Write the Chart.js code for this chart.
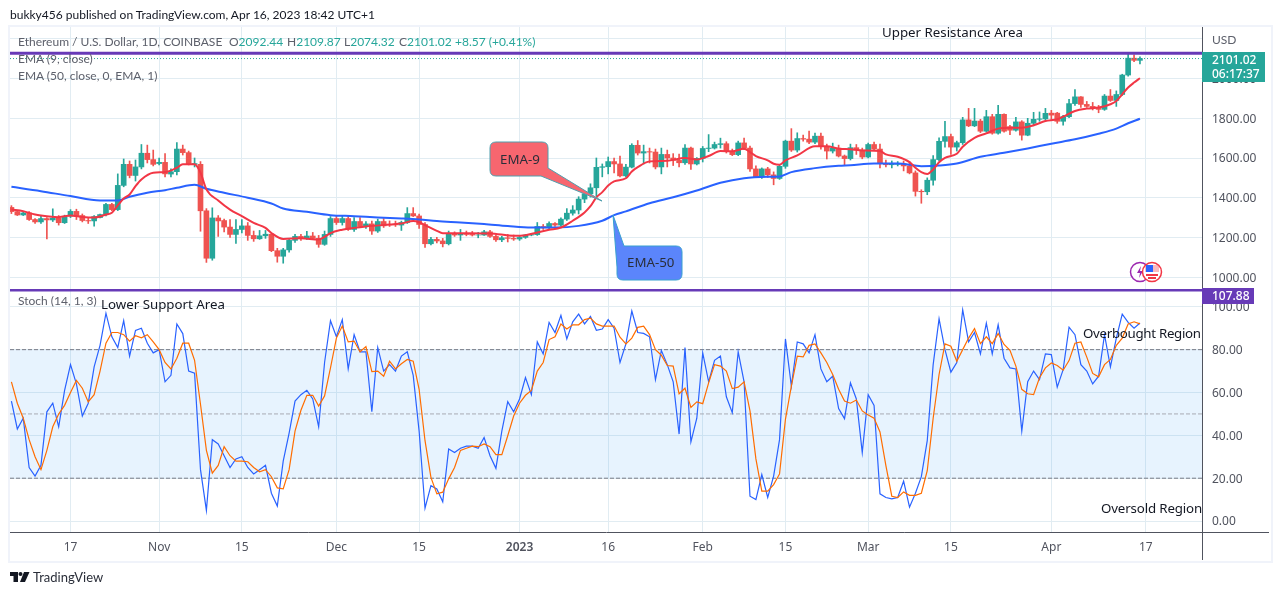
<!DOCTYPE html>
<html>
<head>
<meta charset="utf-8">
<title>ETHUSD</title>
<script src="https://cdn.jsdelivr.net/npm/chart.js@4"></script>
<style>
  html, body { margin: 0; padding: 0; background: #fff; width: 1280px; height: 595px; overflow: hidden; }
  body { font-family: Lato, sans-serif; color: #131722; position: relative; }
  canvas { position: absolute; left: 0; top: 0; }
  .t { position: absolute; white-space: nowrap; font-size: 12px; line-height: 16px; }
  .note { font-family: "Noto Sans", sans-serif; font-size: 13.3px; }
  .grey { color: #5d606b; }
  .up { color: #26a69a; }
  .frame { position: absolute; left: 8px; top: 25px; width: 1261px; height: 534px; border: 2px solid #f0f3fa; }
  .axis { position: absolute; background: #50535e; }
  .tag { position: absolute; color: #fff; font-family: "Noto Sans", sans-serif; font-size: 12px; line-height: 14px; text-align: left; padding-left: 10px; box-sizing: border-box; font-weight: 500; }
  svg { position: absolute; left: 0; top: 0; }
</style>
</head>
<body>
<div class="frame"></div>
<canvas id="chart" width="1280" height="595"></canvas>
<div class="axis" style="left:1202px;top:531px;width:1px;height:29px"></div>
<div class="axis" style="left:1202px;top:532px;width:67px;height:1px"></div>

<svg width="1280" height="595">
  <!-- Callouts -->
  <path d="M496 142 H542 Q548 142 548 148 V168 L602 201 L541 176 H496 Q490 176 490 170 V148 Q490 142 496 142 Z" fill="#f7666f" stroke="#4f9fae"/>
  <path d="M613 215 L624 246 H676 Q682 246 682 252 V274 Q682 280 676 280 H623 Q617 280 617 274 V267 Z" fill="#5b85fb" stroke="#38a0cf"/>
  <!-- Icons -->
  <circle cx="1140" cy="272" r="9.5" fill="#fff" stroke="#9c27b0" stroke-width="1.5"/>
  <path d="M1141 266 L1137 273 H1140 L1139 278 L1143 271 H1140 Z" fill="#9c27b0"/>
  <circle cx="1152" cy="272" r="9.5" fill="#fff" stroke="#f23645" stroke-width="1.5"/>
  <rect x="1145" y="265" width="14" height="7" fill="#f23645" opacity=".35"/>
  <rect x="1146" y="265" width="7" height="7" fill="#2962ff"/>
  <rect x="1146" y="274" width="12" height="2" fill="#f23645"/>
  <rect x="1148" y="277" width="8" height="2" fill="#f23645"/>
  <!-- TradingView logo -->
  <path d="M10 572 H18 V582 H13.5 V576 H10 Z" fill="#131722"/>
  <circle cx="20.5" cy="574" r="2" fill="#131722"/>
  <path d="M24 572 H29.5 L25 582 H20 Z" fill="#131722"/>
</svg>

<div class="t" style="left:10px;top:7px">bukky456 published on TradingView.com, Apr 16, 2023 18:42 UTC+1</div>
<div class="t grey" style="left:18px;top:34px">Ethereum / U.S. Dollar, 1D, COINBASE</div>
<div class="t" style="left:229px;top:34px"><span class="grey">O</span><span class="up">2092.44</span></div>
<div class="t" style="left:287px;top:34px"><span class="grey">H</span><span class="up">2109.87</span></div>
<div class="t" style="left:344px;top:34px"><span class="grey">L</span><span class="up">2074.32</span></div>
<div class="t" style="left:399px;top:34px"><span class="grey">C</span><span class="up">2101.02</span></div>
<div class="t up" style="left:455px;top:34px">+8.57 (+0.41%)</div>
<div class="t grey" style="left:18px;top:51px">EMA (9, close)</div>
<div class="t grey" style="left:18px;top:68px">EMA (50, close, 0, EMA, 1)</div>
<div class="t grey" style="left:18px;top:293px">Stoch (14, 1, 3)</div>
<div class="t note" style="left:101px;top:296px">Lower Support Area</div>
<div class="t note" style="left:882px;top:24px">Upper Resistance Area</div>
<div class="t note" style="left:1083px;top:325px;letter-spacing:-0.3px">Overbought Region</div>
<div class="t note" style="left:1101px;top:500px;letter-spacing:-0.15px">Oversold Region</div>
<div class="t note" style="left:500px;top:151px;color:#2a2e39">EMA-9</div>
<div class="t note" style="left:627px;top:254px;color:#2a2e39">EMA-50</div>
<div class="t grey" style="left:1212px;top:32px">USD</div>
<div class="tag" style="left:1202px;top:52px;width:63px;height:30px;background:#26a69a;padding-top:1px">2101.02<br>06:17:37</div>
<div class="tag" style="left:1202px;top:288px;width:52px;height:16px;background:#673ab7;line-height:16px">107.88</div>
<div class="t" style="left:33px;top:569px;color:#2a2e39;font-size:13px">TradingView</div>

<script>
// --- Data ---
const opens = [
    1351,1330,1313,1323,1290,1278,1295,1288,1297,1274,
    1307,1331,1310,1285,1283,1300,1315,1366,1340,1462,
    1568,1512,1555,1624,1592,1572,1578,1519,1531,1645,
    1627,1568,1568,1334,1095,1298,1285,1252,1215,1240,
    1258,1210,1193,1208,1216,1133,1105,1137,1185,1205,
    1198,1207,1195,1165,1215,1295,1275,1295,1240,1280,
    1255,1268,1232,1280,1265,1265,1262,1275,1320,1308,
    1265,1168,1190,1182,1168,1220,1212,1218,1215,1212,
    1212,1228,1205,1188,1198,1195,1192,1200,1212,1214,
    1255,1248,1270,1262,1292,1322,1338,1393,1420,1450,
    1553,1556,1582,1570,1510,1554,1664,1625,1632,1630,
    1555,1618,1600,1588,1576,1650,1570,1598,1648,1650,
    1668,1672,1633,1617,1676,1650,1545,1505,1545,1515,
    1497,1558,1685,1640,1698,1695,1680,1710,1658,1635,
    1650,1610,1597,1652,1640,1605,1668,1645,1572,1566,
    1568,1572,1560,1525,1432,1430,1488,1592,1684,1708,
    1655,1677,1792,1762,1786,1735,1808,1725,1820,1758,
    1740,1782,1715,1775,1795,1797,1826,1826,1785,1808,
    1874,1908,1870,1860,1850,1845,1912,1890,1920,2018,
    2103,2092
];
const highs = [
    1360,1335,1330,1330,1295,1310,1300,1344,1310,1312,
    1340,1342,1318,1298,1310,1318,1372,1372,1520,1595,
    1585,1590,1668,1665,1640,1600,1622,1545,1678,1665,
    1635,1600,1582,1345,1349,1310,1292,1290,1290,1290,
    1275,1232,1235,1235,1220,1145,1145,1195,1215,1215,
    1230,1225,1210,1232,1305,1310,1310,1310,1300,1300,
    1280,1282,1292,1295,1283,1282,1282,1350,1350,1318,
    1275,1200,1200,1195,1232,1228,1240,1232,1230,1225,
    1235,1235,1212,1205,1215,1212,1205,1215,1220,1275,
    1265,1278,1275,1298,1345,1360,1405,1425,1470,1600,
    1570,1605,1600,1610,1568,1672,1688,1665,1650,1645,
    1650,1640,1622,1620,1668,1655,1602,1658,1718,1680,
    1700,1682,1645,1685,1700,1660,1560,1550,1553,1530,
    1565,1690,1748,1727,1715,1735,1725,1725,1670,1675,
    1665,1615,1670,1668,1650,1675,1680,1670,1590,1585,
    1582,1585,1582,1535,1440,1500,1612,1702,1785,1720,
    1685,1805,1850,1850,1795,1840,1820,1865,1823,1765,
    1805,1788,1800,1830,1832,1850,1840,1830,1815,1895,
    1945,1910,1885,1880,1865,1920,1945,1938,2022,2125,
    2120,2110
];
const lows = [
    1320,1310,1310,1285,1270,1270,1192,1280,1262,1270,
    1300,1290,1278,1270,1256,1298,1308,1335,1335,1455,
    1500,1484,1545,1575,1560,1565,1505,1505,1515,1615,
    1565,1555,1231,1074,1085,1205,1228,1200,1170,1222,
    1185,1180,1190,1195,1128,1075,1070,1125,1175,1185,
    1190,1190,1150,1160,1205,1265,1262,1235,1230,1255,
    1245,1215,1225,1250,1255,1255,1235,1270,1305,1245,
    1150,1162,1172,1152,1162,1205,1185,1208,1207,1198,
    1210,1200,1180,1178,1177,1185,1185,1195,1208,1210,
    1240,1243,1255,1258,1285,1312,1318,1375,1403,1410,
    1505,1520,1525,1505,1505,1550,1615,1570,1575,1545,
    1520,1555,1562,1555,1568,1542,1565,1580,1632,1645,
    1650,1625,1612,1612,1642,1532,1505,1497,1502,1465,
    1492,1548,1633,1630,1685,1672,1672,1645,1595,1625,
    1605,1562,1590,1618,1596,1600,1640,1550,1555,1550,
    1560,1535,1520,1408,1372,1415,1463,1585,1655,1618,
    1635,1668,1758,1758,1728,1730,1720,1720,1730,1718,
    1735,1690,1712,1762,1785,1790,1795,1775,1765,1803,
    1865,1855,1855,1842,1828,1840,1885,1860,1915,2012,
    2085,2074
];
const closes = [
    1330,1313,1323,1290,1278,1295,1288,1297,1274,1302,
    1331,1305,1285,1283,1305,1315,1366,1340,1462,1568,
    1512,1555,1624,1592,1568,1578,1520,1531,1645,1627,
    1568,1572,1334,1095,1298,1283,1252,1215,1240,1258,
    1210,1193,1208,1216,1133,1105,1137,1185,1205,1198,
    1207,1195,1165,1215,1295,1275,1295,1240,1280,1255,
    1268,1232,1280,1258,1263,1263,1275,1320,1308,1265,
    1168,1190,1182,1168,1220,1212,1218,1215,1212,1212,
    1228,1205,1188,1198,1195,1192,1200,1212,1214,1255,
    1248,1270,1262,1292,1322,1338,1393,1420,1450,1553,
    1556,1582,1570,1510,1554,1664,1625,1632,1630,1555,
    1618,1600,1588,1576,1650,1570,1598,1648,1650,1668,
    1672,1633,1617,1676,1650,1545,1505,1545,1515,1497,
    1558,1685,1640,1698,1695,1680,1710,1658,1635,1650,
    1610,1597,1652,1640,1605,1668,1645,1572,1566,1568,
    1572,1560,1525,1432,1430,1488,1592,1684,1708,1655,
    1677,1792,1762,1786,1735,1808,1725,1820,1735,1740,
    1782,1715,1775,1795,1797,1825,1816,1785,1808,1874,
    1908,1870,1860,1850,1845,1912,1890,1920,2018,2103,
    2092,2101
];

// EMA lines, read at the days where the line bends
const ema9Days = [0,2,4,6,8,10,12,14,16,17,18,19,20,21,22,24,26,28,29,31,32,33,35,37,39,41,43,44,46,49,52,53,54,56,58,60,64,66,68,69,
    70,72,73,77,81,85,87,89,91,93,95,97,98,99,100,101,102,104,105,106,108,111,114,116,118,120,122,124,125,126,128,129,130,131,133,136,138,140,142,
    144,147,148,150,152,153,154,155,156,157,158,160,161,163,165,167,169,171,173,175,177,178,180,182,184,186,187,188,189,190,191];
const ema9Values = [1340,1332,1315,1307,1302,1310,1303,1300,1315,1324,1361,1396,1416,1458,1492,1526,1529,1551,1568,1568,1526,1442,1386,1340,1307,1273,1248,1222,1192,1196,1189,1202,1222,1239,1248,1255,1265,1270,1282,1276,
    1262,1233,1221,1221,1220,1208,1211,1225,1238,1250,1284,1326,1357,1402,1428,1461,1482,1498,1532,1554,1583,1586,1600,1592,1610,1635,1634,1647,1630,1610,1588,1571,1566,1588,1613,1659,1659,1647,1644,
    1638,1635,1618,1606,1579,1551,1529,1520,1542,1579,1601,1621,1657,1702,1724,1748,1753,1753,1765,1786,1795,1808,1837,1849,1854,1871,1887,1921,1955,1980,2002];
const ema50Days = [0,5,10,15,18,20,23,26,28,31,33,36,40,44,46,50,54,58,62,66,69,72,76,80,84,88,92,96,100,102,104,108,112,116,120,124,128,130,132,136,140,142,146,150,154,157,160,164,168,172,176,180,184,187,189,191];
const ema50Values = [1455,1433,1408,1386,1386,1405,1425,1438,1450,1465,1445,1425,1400,1371,1346,1329,1312,1307,1300,1295,1290,1282,1275,1267,1257,1250,1250,1258,1284,1312,1331,1372,1402,1436,1475,1498,1505,1507,1529,1549,1561,1564,1572,1572,1559,1562,1572,1606,1626,1648,1672,1694,1722,1748,1775,1798];

// Stochastic lines
const stochK = [
    56,43,48,25,21,26,51,55,44,61,
    73,64,49,55,72,82,97,86,81,93.5,
    77,89,90,83,78.5,80,65,68,92,87.5,
    70,69,24,5,38,36,30.5,25,29,30,
    25,22,24,26,13,7,28,41,56,59,
    61,57,44,74,93.5,86,94,71,87,79,
    79,51,81,70,73,70,77,79,68,42,
    6,16.5,15,9,33.6,32,34,35,35,34,
    39,30.5,24.6,42,55.7,51,57,67,59,83.6,
    78,92.7,88,96,85,93,96.6,92,95.5,89,
    89.6,94,90,74,82.7,98,88,87.6,86,66,
    79.6,73,65,40.6,81,37,48,78.5,65,75,
    77,58,50.6,79,65,11.6,10,21.7,11,21,
    38,85,63,83.6,82.7,78.5,87,71,65,67.6,
    52.5,47.8,64.5,57,32,59,54,12.7,11,10.4,
    11,18.6,6.5,13,20.7,37.5,73,94.4,80,69.5,
    74,98.6,83.6,88,78,92.4,78,91.6,76,71.5,
    71,42,65,70,66,78,77.7,62.5,70.7,90.5,
    87,73,70,64,67.6,87,72,85.4,96.6,92.7,
    90,92.4
];
const stochD = [
    65,55,48,38,30,24,33,44,50,54,
    60,65.6,62,55.6,59,70,83,88,88,87,
    84,86.5,85.5,87,83.6,80,74,71,76,83,
    83,75,54.5,33,22.4,26,34.7,30.5,28,28,
    27.7,25,23,24,20.7,15.5,15,24,42,51.7,
    58.7,58.7,53.7,58.4,71.5,85.4,91,83.6,84,79,
    81.4,69.7,70,67.6,74.6,71,73.4,75.4,74.6,61.5,
    37.5,20.4,12.7,13.5,19.7,25,33,34,35,34.7,
    36,34.7,31,31,39.8,49,55,58.7,61,70,
    74,84.7,86,92,89.6,91.6,91.6,94,94.7,92,
    91,91,91,85.8,82.7,85.4,90.4,91,87,80,
    77.4,72.6,72.3,59.4,62,53,55.6,54.8,64.5,73,
    72.3,70,61.8,62.5,65,51.4,29,14,14,17,
    22,47.5,63,77,76.6,82,82.7,78.5,74,68.4,
    61.5,56,55,56.5,51.4,49.5,48,41.6,25.9,11.6,
    11,13.6,12,12,13,23.5,48,68.4,82.7,81.6,
    74.6,80,85.4,89.8,82.8,86,82.8,87.5,82.4,79.7,
    72.3,61.5,59.4,59,66.9,71.5,73.8,72.6,70.4,74.9,
    83,83.6,76.5,68.9,67.3,73,75.4,82,85.4,92,
    93,92
];

// Axes (days counted from Oct 7 2022)
const xTickDays = [10,25,39,55,69,86,101,117,131,145,159,176,192];
const xTickLabels = ['17','Nov','15','Dec','15','2023','16','Feb','15','Mar','15','Apr','17'];
const priceTicks = [1000,1200,1400,1600,1800,2000,2200];
const stochTicks = [0,20,40,60,80,100];

// Horizontal levels
const upperResistance = 2128;
const lastClose = 2101.02;
const lowerSupport = 107.88;
const stochBand = [80,20];
const stochMid = 50;

// --- Chart settings ---
const X_MIN = -0.24, X_MAX = 201.5;
const UP = '#26a69a', DOWN = '#ef5350', GRID = '#e1ecf2', AXIS = '#50535e';
const TICK_FONT = { family: '"Noto Sans"', size: 12 };

const days = opens.map((_, i) => i);
const candleColor = ctx => closes[ctx.dataIndex] >= opens[ctx.dataIndex] ? UP : DOWN;
const pairs = (xs, ys) => xs.map((x, i) => ({ x: x, y: ys[i] }));
const hline = (value, yAxisID, color, width, dash, extra) => Object.assign({
    type: 'line', yAxisID: yAxisID, data: [{ x: X_MIN, y: value }, { x: X_MAX, y: value }],
    borderColor: color, borderWidth: width, borderDash: dash, pointRadius: 0
}, extra);
const curve = (xs, ys, yAxisID, color, width, order, extra) => Object.assign({
    type: 'line', yAxisID: yAxisID, data: pairs(xs, ys),
    borderColor: color, borderWidth: width, pointRadius: 0, order: order
}, extra);

const datasets = [
    // Stochastic pane
    hline(stochBand[0], 'y2', '#787b86', 1, [4, 2], { fill: { value: stochBand[1] }, backgroundColor: 'rgba(33,150,243,0.11)', order: 20 }),
    hline(stochBand[1], 'y2', '#787b86', 1, [4, 2], { order: 19 }),
    hline(stochMid, 'y2', '#a9abb3', 1, [4, 2], { order: 19 }),
    curve(days, stochK, 'y2', '#2962ff', 1.2, 6),
    curve(days, stochD, 'y2', '#ff6d00', 1.2, 5),
    // Candles
    { type: 'bar', yAxisID: 'y', grouped: false, order: 10, barThickness: 1,
      data: days.map(i => ({ x: i, y: [lows[i], highs[i]] })), backgroundColor: candleColor },
    { type: 'bar', yAxisID: 'y', grouped: false, order: 9, barThickness: 5,
      data: days.map(i => ({ x: i, y: [opens[i], closes[i]] })), backgroundColor: candleColor },
    // Price overlays
    curve(ema50Days, ema50Values, 'y', '#2962ff', 2, 4, { cubicInterpolationMode: 'monotone' }),
    curve(ema9Days, ema9Values, 'y', '#f23645', 2, 3, { cubicInterpolationMode: 'monotone' }),
    hline(lastClose, 'y', UP, 1, [1, 2], { order: 8 }),
    hline(upperResistance, 'y', '#673ab7', 3, [], { order: 1 }),
    hline(lowerSupport, 'y2', '#673ab7', 3, [], { order: 1 })
];

new Chart(document.getElementById('chart').getContext('2d'), {
    type: 'line',
    data: { datasets: datasets },
    options: {
        responsive: false,
        animation: false,
        events: [],
        layout: { padding: { left: 10, top: 27, right: 10, bottom: 36 } },
        plugins: { legend: { display: false }, tooltip: { enabled: false } },
        scales: {
            x: {
                type: 'linear', min: X_MIN, max: X_MAX, offset: false,
                afterBuildTicks: axis => { axis.ticks = xTickDays.map(v => ({ value: v })); },
                afterFit: axis => { axis.height = 27; },
                grid: { color: GRID, offset: false, drawTicks: false },
                border: { color: AXIS },
                ticks: {
                    autoSkip: false, maxRotation: 0, padding: 8, color: '#50535e',
                    font: ctx => ({ family: '"Noto Sans"', size: 12, weight: xTickLabels[ctx.index] === '2023' ? '600' : '400' }),
                    callback: (value, index) => xTickLabels[index]
                }
            },
            y: {
                position: 'right', stack: 'panes', stackWeight: 262, min: 940, max: 2260,
                afterBuildTicks: axis => { axis.ticks = priceTicks.map(v => ({ value: v })); },
                afterFit: axis => { axis.width = 68; },
                grid: { color: GRID, drawTicks: false },
                border: { color: AXIS },
                ticks: {
                    autoSkip: false, padding: 10, labelOffset: 1, color: '#50535e', font: TICK_FONT,
                    callback: value => value === 2200 ? '' : value.toFixed(2)
                }
            },
            y2: {
                position: 'right', stack: 'panes', stackWeight: 243, min: -5.1, max: 108.3,
                afterBuildTicks: axis => { axis.ticks = stochTicks.map(v => ({ value: v })); },
                afterFit: axis => { axis.width = 68; },
                grid: { color: GRID, drawTicks: false },
                border: { color: AXIS },
                ticks: {
                    autoSkip: false, padding: 10, labelOffset: 1, color: '#50535e', font: TICK_FONT,
                    callback: value => value.toFixed(2)
                }
            }
        }
    }
});
</script>
</body>
</html>
